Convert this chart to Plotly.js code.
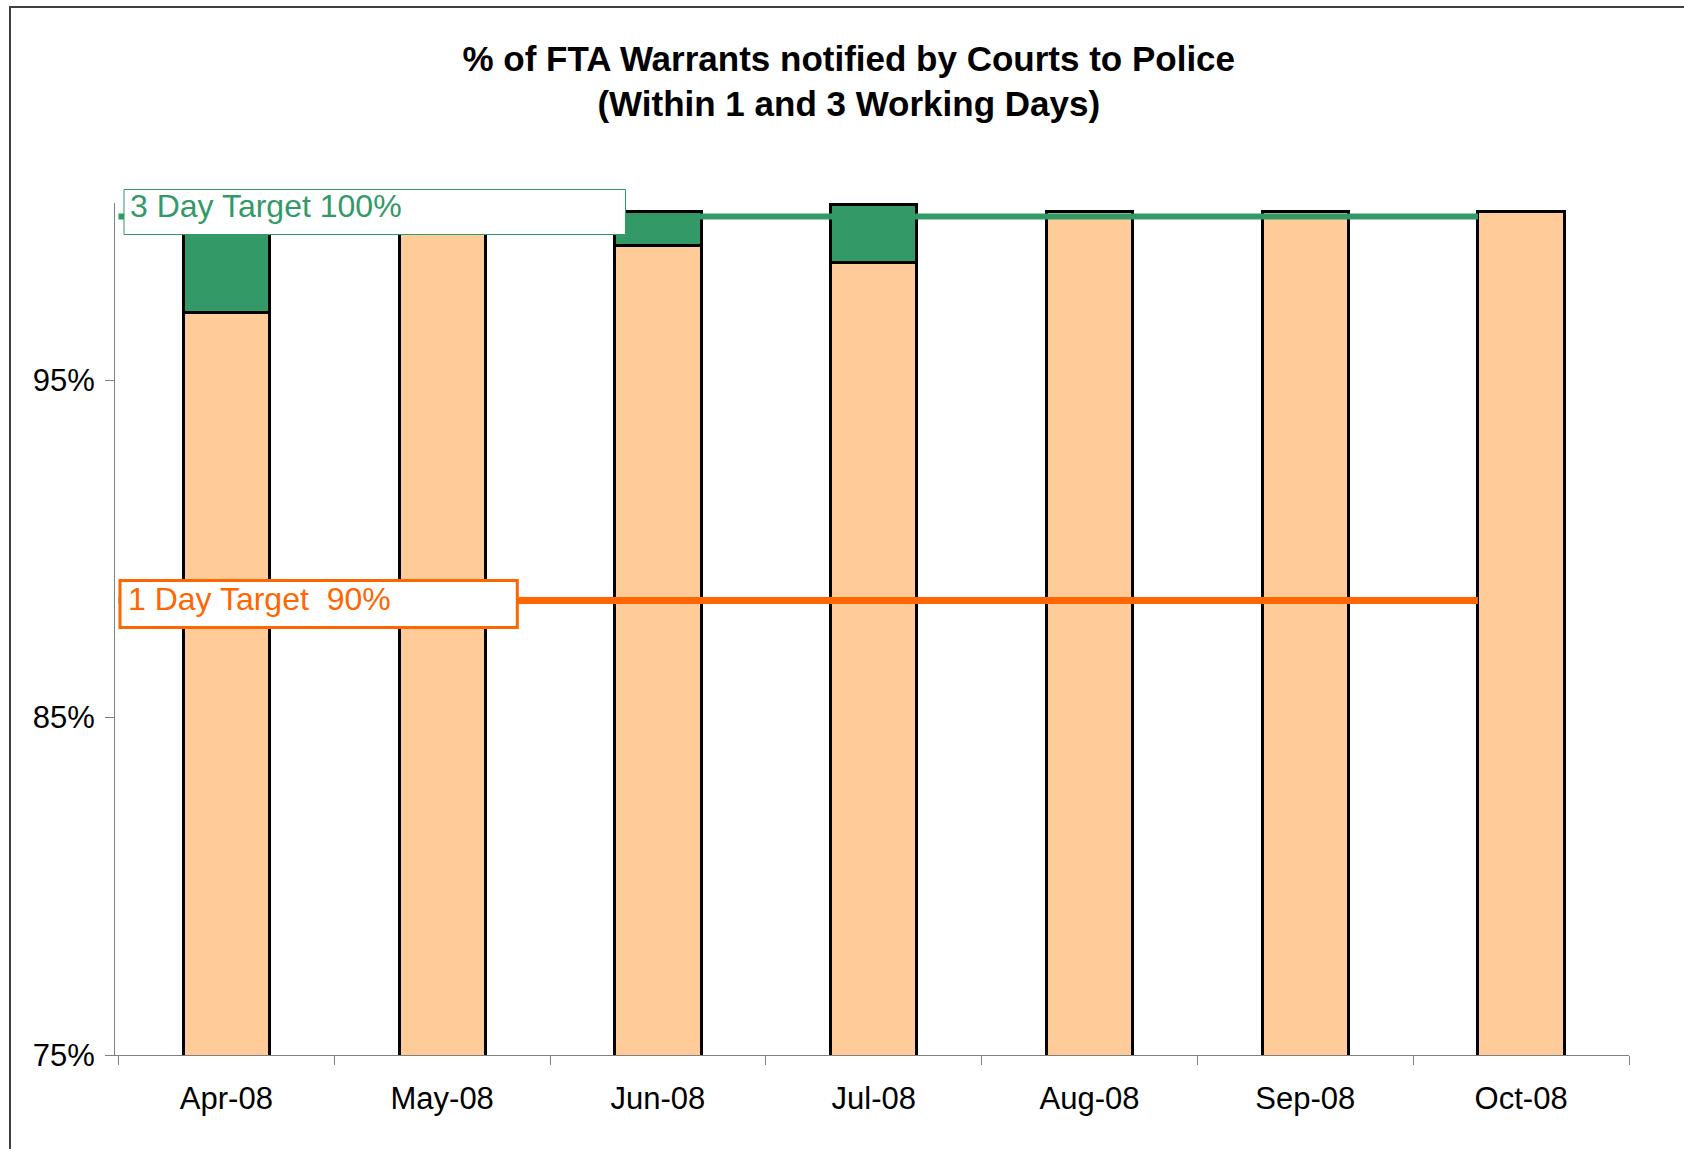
<!DOCTYPE html>
<html>
<head>
<meta charset="utf-8">
<script src="https://cdn.plot.ly/plotly-3.0.1.min.js"></script>
<style>
  html, body { margin: 0; padding: 0; background: #ffffff; overflow: hidden; }
  #chart { width: 1684px; height: 1149px; position: absolute; left: 0; top: 0; }
  #frame { position: absolute; left: 9px; top: 6px; width: 1700px; height: 1200px;
           border-left: 2px solid #404040; border-top: 2px solid #404040; pointer-events: none; }
</style>
</head>
<body>
<div id="chart"></div>
<div id="frame"></div>
<script>
// ---- data ----
const months = ["Apr-08", "May-08", "Jun-08", "Jul-08", "Aug-08", "Sep-08", "Oct-08"];
const withinOneDay = [97.0, 100.0, 99.0, 98.5, 100.0, 100.0, 100.0];      // % within 1 working day
const extraWithinThreeDays = [3.0, 0.0, 1.0, 1.7, 0.0, 0.0, 0.0];         // additional % within 3 days
const target3DayLevel = 99.85;   // drawn level of "3 Day Target 100%" line
const target1DayLevel = 88.47;   // drawn level of "1 Day Target 90%" line
const target3DayLabel = "3 Day Target 100%";
const target1DayLabel = "1 Day Target\u00a0 90%";
const yTicks = [75, 85, 95];

const FONT = "Arial, 'Liberation Sans', sans-serif";
const ORANGE_FILL = "#FFCC99";
const GREEN = "#339966";
const ORANGE = "#FF6600";

const traces = [
  {
    type: "bar",
    x: months,
    y: withinOneDay,
    marker: { color: ORANGE_FILL, line: { color: "#000000", width: 3 } },
    hoverinfo: "skip"
  },
  {
    type: "bar",
    x: months,
    y: extraWithinThreeDays,
    marker: { color: GREEN, line: { color: "#000000", width: 3 } },
    hoverinfo: "skip"
  }
];

const L = 115, R = 55, T = 203, B = 94;
const plotW = 1684 - L - R, plotH = 1149 - T - B;
const px = v => (v - L) / plotW;            // page x pixel -> paper x
const py = v => (1149 - B - v) / plotH;     // page y pixel -> paper y

const layout = {
  width: 1684,
  height: 1149,
  paper_bgcolor: "#ffffff",
  plot_bgcolor: "#ffffff",
  showlegend: false,
  barmode: "stack",
  bargap: 0.6,
  margin: { l: L, r: R, t: T, b: B, pad: 0 },
  font: { family: FONT, color: "#000000" },
  title: {
    text: "<b>% of FTA Warrants notified by Courts to Police<br>(Within 1 and 3 Working Days)</b>",
    font: { family: FONT, size: 35, color: "#000000" },
    xref: "container", x: 0.504, xanchor: "center",
    yref: "container", y: 0.9385, yanchor: "middle"
  },
  xaxis: {
    type: "category",
    categoryorder: "array",
    categoryarray: months,
    tickson: "boundaries",
    ticks: "outside",
    ticklen: 9,
    tickwidth: 1,
    tickcolor: "#808080",
    showline: true,
    linecolor: "#808080",
    linewidth: 1,
    showgrid: false,
    zeroline: false,
    tickfont: { family: FONT, size: 31, color: "#000000" },
    ticklabelstandoff: 16,
    fixedrange: true
  },
  yaxis: {
    range: [75, 100.25],
    tickmode: "array",
    tickvals: yTicks,
    ticktext: yTicks.map(v => v + "%"),
    ticks: "outside",
    ticklen: 9,
    tickwidth: 1,
    tickcolor: "#808080",
    showline: true,
    linecolor: "#808080",
    linewidth: 1,
    showgrid: false,
    zeroline: false,
    tickfont: { family: FONT, size: 31, color: "#000000" },
    ticklabelstandoff: 4,
    fixedrange: true
  },
  shapes: [
    {
      type: "line", layer: "above",
      xref: "x", yref: "y",
      x0: -0.5, x1: 5.8, y0: target3DayLevel, y1: target3DayLevel,
      line: { color: GREEN, width: 6 }
    },
    {
      type: "line", layer: "above",
      xref: "x", yref: "y",
      x0: -0.5, x1: 5.8, y0: target1DayLevel, y1: target1DayLevel,
      line: { color: ORANGE, width: 7 }
    },
    // label boxes
    {
      type: "rect", layer: "above",
      xref: "paper", yref: "paper",
      x0: px(124), x1: px(625.5), y0: py(234.5), y1: py(189.5),
      fillcolor: "#ffffff",
      line: { color: GREEN, width: 1 }
    },
    {
      type: "rect", layer: "above",
      xref: "paper", yref: "paper",
      x0: px(120), x1: px(517.3), y0: py(627.5), y1: py(580.5),
      fillcolor: "#ffffff",
      line: { color: ORANGE, width: 3 }
    }
  ],
  annotations: [
    {
      text: target3DayLabel,
      xref: "paper", yref: "paper",
      x: px(128), y: py(206), xanchor: "left", yanchor: "middle",
      showarrow: false, align: "left",
      font: { family: FONT, size: 32, color: GREEN }
    },
    {
      text: target1DayLabel,
      xref: "paper", yref: "paper",
      x: px(126), y: py(598.5), xanchor: "left", yanchor: "middle",
      showarrow: false, align: "left",
      font: { family: FONT, size: 32, color: ORANGE }
    }
  ]
};

Plotly.newPlot("chart", traces, layout, { displayModeBar: false, staticPlot: true });
</script>
</body>
</html>
